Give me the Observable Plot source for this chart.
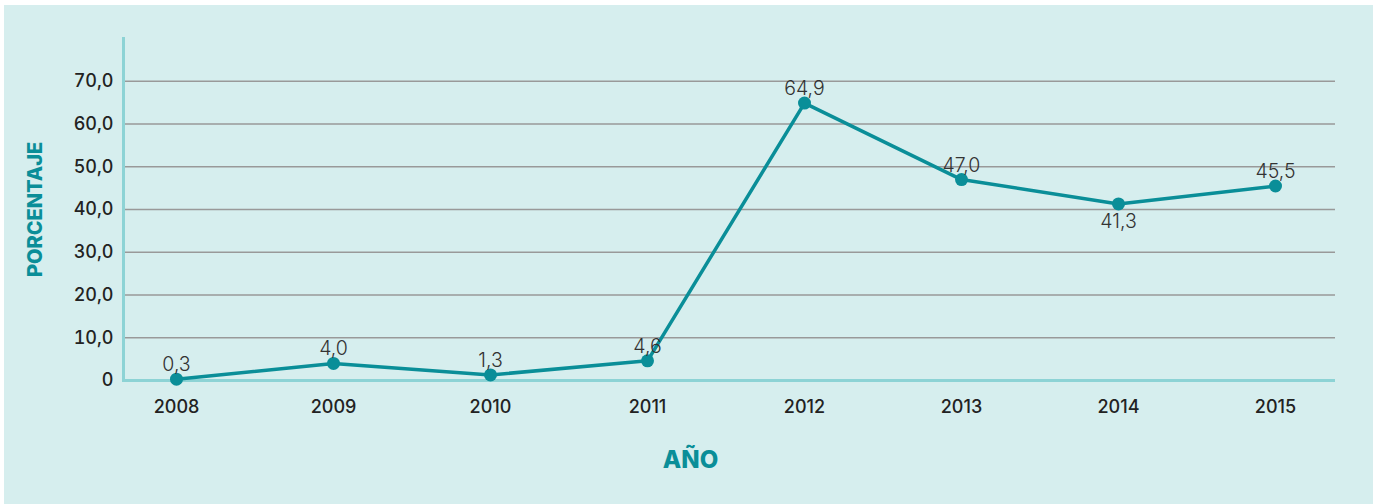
<!DOCTYPE html>
<html>
<head>
<meta charset="utf-8">
<script src="https://cdn.jsdelivr.net/npm/d3@7"></script>
<script src="https://cdn.jsdelivr.net/npm/@observablehq/plot@0.6"></script>
<style>
  html, body { margin: 0; padding: 0; background: #ffffff; }
  #wrap { position: relative; width: 1378px; height: 504px; overflow: hidden; }
  #bg { position: absolute; left: 4px; top: 5px; width: 1369px; height: 499px; background: #d6eeee; }
  #chart { position: absolute; left: 0; top: 0; }
  #chart svg { background: transparent !important; }
</style>
</head>
<body>
<div id="wrap"><div id="bg"></div><div id="chart"></div></div>
<script>
const years = [2008, 2009, 2010, 2011, 2012, 2013, 2014, 2015];
const values = [0.3, 4.0, 1.3, 4.6, 64.9, 47.0, 41.3, 45.5];
const labelBelow = [false, false, false, false, false, false, true, false];
const yTicks = [0, 10, 20, 30, 40, 50, 60, 70];
const yTitle = "PORCENTAJE";
const xTitle = "AÑO";

const data = years.map((y, i) => ({year: y, value: values[i], below: labelBelow[i]}));
const fmt = v => v === 0 ? "0" : v.toFixed(1).replace(".", ",");

const teal = "#0a8e98";
const axisTeal = "#8dd3d5";
const font = "Inter, 'Open Sans', sans-serif";

const chart = Plot.plot({
  width: 1378,
  height: 504,
  marginLeft: 123,
  marginRight: 43,
  marginTop: 38,
  marginBottom: 124,
  style: {background: "transparent", fontFamily: font, fontSize: "18px", color: "#222"},
  x: {type: "point", domain: years, padding: 0.324, insetRight: 8},
  y: {domain: [0, 80]},
  marks: [
    Plot.gridY(yTicks.filter(d => d > 0), {stroke: "#999", strokeOpacity: 1, strokeWidth: 1.5}),
    Plot.frame({anchor: "left", stroke: axisTeal, strokeWidth: 3}),
    Plot.ruleY([0], {stroke: axisTeal, strokeWidth: 3}),
    Plot.axisY({ticks: yTicks, tickFormat: fmt, tickSize: 0, tickPadding: 10, label: null, fontWeight: 500, fontSize: 18, fill: "#222"}),
    Plot.axisX({tickSize: 0, tickPadding: 20, tickFormat: d => String(d), label: null, fontWeight: 500, fontSize: 18, fill: "#222"}),
    Plot.line(data, {x: "year", y: "value", stroke: teal, strokeWidth: 3.5}),
    Plot.dot(data, {x: "year", y: "value", r: 6.5, fill: teal, stroke: "none"}),
    Plot.text(data.filter(d => !d.below), {x: "year", y: "value", text: d => fmt(d.value), dy: -8, lineAnchor: "bottom", fontSize: 19.5, fontWeight: 300, fill: "#333"}),
    Plot.text(data.filter(d => d.below), {x: "year", y: "value", text: d => fmt(d.value), dy: 10, lineAnchor: "top", fontSize: 19.5, fontWeight: 300, fill: "#333"}),
    Plot.text([yTitle], {frameAnchor: "left", textAnchor: "middle", lineAnchor: "middle", dx: -88, rotate: -90, fontSize: 20, fontWeight: 800, fill: teal, letterSpacing: "1px"}),
    Plot.text([xTitle], {frameAnchor: "bottom", textAnchor: "middle", lineAnchor: "middle", dx: -39, dy: 80, fontSize: 24, fontWeight: 800, fill: teal})
  ]
});
document.getElementById("chart").appendChild(chart);
</script>
</body>
</html>
